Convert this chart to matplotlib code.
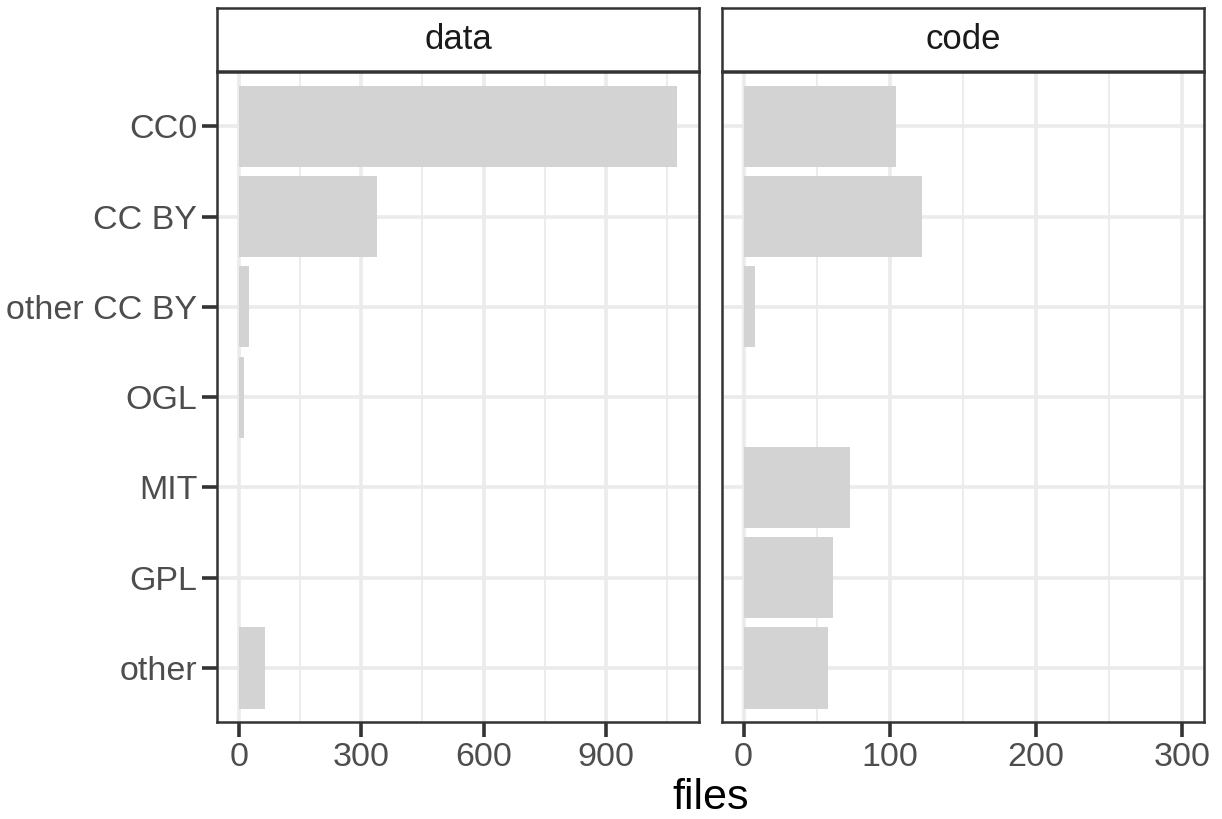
import matplotlib
matplotlib.use("Agg")
import matplotlib.pyplot as plt
from matplotlib.ticker import MultipleLocator

plt.rcParams.update({
    'font.family': ['Liberation Sans', 'DejaVu Sans'],
})

# licence categories, top to bottom
licences = ['CC0', 'CC BY', 'other CC BY', 'OGL', 'MIT', 'GPL', 'other']
data_files = [1075, 340, 26, 14, 0, 0, 64]
code_files = [104, 122, 8, 0, 73, 61, 58]

facets = ['data', 'code']
facet_values = [data_files, code_files]
facet_xmax = [1075, 300]
facet_major = [300, 100]

GRID = '#ebebeb'
DARK = '#333333'
TICKTXT = '#4d4d4d'
BAR = '#d3d3d3'

fig = plt.figure(figsize=(12.22, 8.19), dpi=100)

W, H = 1222, 819
panel_top, panel_bot = 72, 722.3
strip_top, strip_bot = 8, 71
lefts = [216.7, 721.7]
rights = [699.3, 1204]

n = len(licences)
ypos = list(range(n, 0, -1))

for i, (name, vals) in enumerate(zip(facets, facet_values)):
    l, r = lefts[i], rights[i]
    ax = fig.add_axes([l / W, 1 - panel_bot / H, (r - l) / W, (panel_bot - panel_top) / H])
    ax.set_facecolor('white')
    xmax = facet_xmax[i]
    ax.set_xlim(-0.05 * xmax, 1.05 * xmax)
    ax.set_ylim(0.4, n + 0.6)
    ax.xaxis.set_major_locator(MultipleLocator(facet_major[i]))
    ax.xaxis.set_minor_locator(MultipleLocator(facet_major[i] / 2))
    ax.set_yticks(ypos)
    ax.grid(which='major', color=GRID, linewidth=2.6, zorder=0)
    ax.grid(which='minor', axis='x', color=GRID, linewidth=1.3, zorder=0)
    ax.set_axisbelow(True)

    for y, v in zip(ypos, vals):
        if v > 0:
            ax.barh(y, v, height=0.9, color=BAR, zorder=2)

    for s in ax.spines.values():
        s.set_color(DARK)
        s.set_linewidth(1.8)

    ax.tick_params(axis='x', which='major', length=11, width=2.6, color=DARK,
                   labelsize=24.5, labelcolor=TICKTXT, pad=3)
    ax.tick_params(axis='x', which='minor', length=0)
    if i == 0:
        ax.set_yticklabels(licences)
        ax.tick_params(axis='y', length=11, width=2.6, color=DARK,
                       labelsize=24.5, labelcolor=TICKTXT, pad=3)
    else:
        ax.tick_params(axis='y', length=0, labelleft=False)

    # facet strip
    sax = fig.add_axes([l / W, 1 - strip_bot / H, (r - l) / W, (strip_bot - strip_top) / H])
    sax.set_xticks([])
    sax.set_yticks([])
    for s in sax.spines.values():
        s.set_color(DARK)
        s.set_linewidth(1.8)
    sax.text(0.5, 0.5, name, ha='center', va='center', fontsize=25, color='#1a1a1a',
             transform=sax.transAxes)

fig.text((lefts[0] + rights[1]) / 2 / W, 1 - 798 / H, 'files', ha='center', va='center',
         fontsize=31, color='black')

fig.savefig('out.png', dpi=100, facecolor='white')
